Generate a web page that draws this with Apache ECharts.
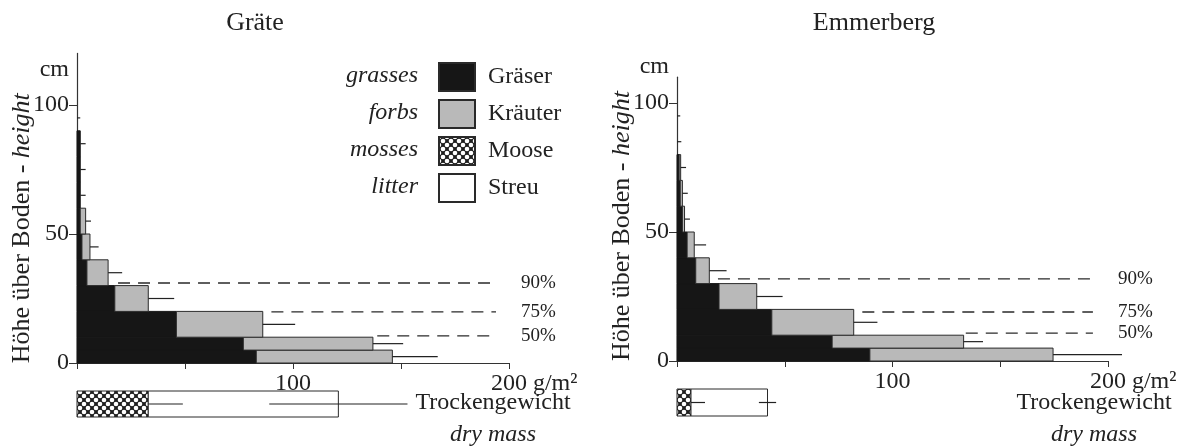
<!DOCTYPE html>
<html><head><meta charset="utf-8">
<script src="https://cdn.jsdelivr.net/npm/echarts@6/dist/echarts.min.js"></script>
<style>html,body{margin:0;padding:0;background:#fff}#c{width:1186px;height:446px}</style>
</head><body><div id="c"></div>
<script>
// ---- data ----
const layerLow  = [0, 5, 10, 20, 30, 40, 50, 60, 70, 80, 90];
const layerHigh = [5, 10, 20, 30, 40, 50, 60, 70, 80, 90, 100];
const grateGrasses = [83, 77, 46, 17.5, 4.6, 2.3, 1.5, 1.5, 1.5, 1.5, 0];
const grateForbs   = [63, 60, 40, 15.5, 9.8, 3.7, 2.5, 0, 0, 0, 0];
const grateSD      = [21, 14, 15, 12, 6.5, 4, 2.5, 2.5, 2.5, 2.5, 1.5];
const emmGrasses = [89.5, 72, 44, 19.5, 8.7, 4.7, 2.5, 1.5, 1, 0, 0];
const emmForbs   = [85, 61, 38, 17.5, 6.3, 3.3, 1, 1, 0.7, 0, 0];
const emmSD      = [32, 9, 11, 12, 8, 5.5, 2.5, 2.5, 2.5, 2, 1.5];
// dry mass of ground layer: [mosses, litter]
const grateDry   = [33, 88];
const grateDrySD = [16, 32];
const emmDry     = [6.5, 35.5];
const emmDrySD   = [6.5, 4];
// cumulative biomass percent lines
const pctLabels      = ['90%', '75%', '50%'];
const gratePctHeight = [31, 19.8, 10.5];
const gratePctStart  = [19, 90, 139];
const gratePctEnd    = [194, 194, 194];
const emmPctHeight   = [31.8, 19, 10.8];
const emmPctStart    = [19, 86, 134];
const emmPctEnd      = [193, 193, 193];
const panelTitles = ['Gräte', 'Emmerberg'];
const legendDe = ['Gräser', 'Kräuter', 'Moose', 'Streu'];
const legendEn = ['grasses', 'forbs', 'mosses', 'litter'];
const yTicks = [0, 50, 100];

// ---- styles ----
const FONT = '"Liberation Serif", "DejaVu Serif", serif';
const TXT = '#222';
const C_GRASS = '#161616';
const C_FORB = '#b9b9b9';
const C_LITTER = '#ffffff';
const BORDER = '#2a2a2a';
function mossPattern() {
  const c = document.createElement('canvas');
  c.width = 8; c.height = 8;
  const g = c.getContext('2d');
  g.fillStyle = '#1e1e1e'; g.fillRect(0, 0, 8, 8);
  g.fillStyle = '#ffffff';
  [[0,0],[8,0],[0,8],[8,8],[4,4]].forEach(p => { g.beginPath(); g.arc(p[0], p[1], 2.3, 0, Math.PI * 2); g.fill(); });
  return { image: c, repeat: 'repeat' };
}
const C_MOSS = mossPattern();

function rectItem(fill, stroke) {
  return function (params, api) {
    const lo = api.value(0), hi = api.value(1), x0 = api.value(2), x1 = api.value(3);
    if (x1 - x0 <= 0) return null;
    const p0 = api.coord([x0, hi]), p1 = api.coord([x1, lo]);
    return { type: 'rect', shape: { x: p0[0], y: p0[1], width: p1[0] - p0[0], height: p1[1] - p0[1] },
      style: { fill: fill, stroke: stroke, lineWidth: 1 } };
  };
}
function errItem(params, api) {
  const y = (api.value(0) + api.value(1)) / 2, x0 = api.value(2), x1 = api.value(3);
  if (x1 - x0 <= 0) return null;
  const p0 = api.coord([x0, y]), p1 = api.coord([x1, y]);
  return { type: 'line', shape: { x1: p0[0], y1: p0[1], x2: p1[0], y2: p1[1] }, style: { stroke: '#222', lineWidth: 1.2 } };
}

function panelSeries(pi, grasses, forbs, sd, dry, drySD, pctH, pctS, pctE) {
  const gi = pi * 2, bi = pi * 2 + 1;
  const gData = layerLow.map((l, i) => [l, layerHigh[i], 0, grasses[i]]);
  const fData = layerLow.map((l, i) => [l, layerHigh[i], grasses[i], grasses[i] + forbs[i]]);
  const eData = layerLow.map((l, i) => [l, layerHigh[i], grasses[i] + forbs[i], grasses[i] + forbs[i] + sd[i]]);
  const common = { type: 'custom', silent: true, clip: false, encode: { x: [2, 3], y: [0, 1] } };
  const s = [
    Object.assign({}, common, { name: legendDe[0], xAxisIndex: gi, yAxisIndex: gi, data: gData, renderItem: rectItem(C_GRASS, C_GRASS), itemStyle: { color: C_GRASS, borderColor: BORDER, borderWidth: 1 } }),
    Object.assign({}, common, { name: legendDe[1], xAxisIndex: gi, yAxisIndex: gi, data: fData, renderItem: rectItem(C_FORB, BORDER), itemStyle: { color: C_FORB, borderColor: BORDER, borderWidth: 1 } }),
    Object.assign({}, common, { name: 'err' + pi, xAxisIndex: gi, yAxisIndex: gi, data: eData, renderItem: errItem, z: 3 }),
    Object.assign({}, common, { name: legendDe[2], xAxisIndex: bi, yAxisIndex: bi, data: [[0, 1, 0, dry[0]]], renderItem: rectItem(C_MOSS, BORDER), itemStyle: { color: C_MOSS, borderColor: BORDER, borderWidth: 1 } }),
    Object.assign({}, common, { name: legendDe[3], xAxisIndex: bi, yAxisIndex: bi, data: [[0, 1, dry[0], dry[0] + dry[1]]], renderItem: rectItem(C_LITTER, BORDER), itemStyle: { color: C_LITTER, borderColor: BORDER, borderWidth: 1 } }),
    Object.assign({}, common, { name: 'dryerr' + pi, xAxisIndex: bi, yAxisIndex: bi, z: 3, renderItem: errItem,
      data: [[0, 1, dry[0], dry[0] + drySD[0]], [0, 1, dry[0] + dry[1] - drySD[1], dry[0] + dry[1] + drySD[1]]] })
  ];
  pctLabels.forEach((lab, k) => {
    s.push({ type: 'line', name: 'pct' + pi + k, xAxisIndex: gi, yAxisIndex: gi, silent: true, symbol: 'none',
      data: [[pctS[k], pctH[k]], [pctE[k], pctH[k]]],
      lineStyle: { type: [12, 8], color: '#2a2a2a', width: 1.3 },
      endLabel: { show: true, formatter: lab, distance: 25, fontFamily: FONT, fontSize: 19, color: TXT } });
  });
  return s;
}

const gridsDef = [
  { left: 77, top: 53.4, width: 432, height: 309.6, ymax: 120, cmGap: -16, namePad: 40 },
  { left: 677, top: 77.2, width: 431, height: 283.8, ymax: 110, cmGap: 10, namePad: 14 }
];
const bottomDef = [
  { left: 77, top: 391, width: 432, height: 26 },
  { left: 677, top: 389, width: 431, height: 27 }
];
const grid = [], xAxis = [], yAxis = [];
gridsDef.forEach((g, pi) => {
  grid.push({ left: g.left, top: g.top, width: g.width, height: g.height, outerBoundsMode: 'none' });
  grid.push({ left: bottomDef[pi].left, top: bottomDef[pi].top, width: bottomDef[pi].width, height: bottomDef[pi].height, outerBoundsMode: 'none' });
  xAxis.push({ type: 'value', gridIndex: pi * 2, min: 0, max: 200, interval: 50, splitLine: { show: false },
    axisLine: { lineStyle: { color: '#333', width: 1.2 } }, axisTick: { length: 6, lineStyle: { color: '#333' } },
    axisLabel: { margin: 9, fontFamily: FONT, fontSize: 24, color: TXT, formatter: v => (v === 100 || v === 200) ? String(v) : '' },
    name: 'g/m²', nameLocation: 'end', nameGap: 5,
    nameTextStyle: { fontFamily: FONT, fontSize: 24, color: TXT, align: 'left', verticalAlign: 'top', padding: [9, 0, 0, 0] } });
  xAxis.push({ type: 'value', gridIndex: pi * 2 + 1, min: 0, max: 200, show: false });
  yAxis.push({ type: 'value', gridIndex: pi * 2, position: 'left', min: 0, max: g.ymax, splitLine: { show: false },
    axisLine: { show: true, lineStyle: { color: '#333', width: 1.2 } },
    axisTick: { show: true, length: 8, customValues: yTicks, lineStyle: { color: '#333' } },
    axisLabel: { margin: 8, customValues: yTicks, fontFamily: FONT, fontSize: 24, color: TXT },
    name: 'cm', nameLocation: 'end', nameGap: g.cmGap,
    nameTextStyle: { fontFamily: FONT, fontSize: 24, color: TXT, align: 'right', verticalAlign: 'middle', padding: [0, 8, 0, 0] } });
  yAxis.push({ type: 'value', gridIndex: pi * 2 + 1, min: 0, max: 1, show: false });
});
// y axis titles (rotated) via a second, bare y axis on the same grids
gridsDef.forEach((g, pi) => {
  yAxis.push({ type: 'value', gridIndex: pi * 2, position: 'left', offset: 0, min: 0, max: g.ymax, axisLine: { show: false }, axisTick: { show: false }, axisLabel: { show: false }, splitLine: { show: false },
    name: '{n|Höhe über Boden - }{i|height}', nameLocation: 'middle', nameRotate: 90, nameGap: 42,
    nameTextStyle: { padding: [0, g.namePad, 0, 0], rich: { n: { fontFamily: FONT, fontSize: 26, color: TXT }, i: { fontFamily: FONT, fontSize: 26, fontStyle: 'italic', color: TXT } } } });
});

const series = [].concat(
  panelSeries(0, grateGrasses, grateForbs, grateSD, grateDry, grateDrySD, gratePctHeight, gratePctStart, gratePctEnd),
  panelSeries(1, emmGrasses, emmForbs, emmSD, emmDry, emmDrySD, emmPctHeight, emmPctStart, emmPctEnd)
);

const graphic = [];
legendEn.forEach((t, i) => {
  graphic.push({ type: 'text', x: 418, y: 76 + i * 37, style: { text: t, fontFamily: FONT, fontSize: 24, fontStyle: 'italic', fill: TXT, align: 'right', verticalAlign: 'middle' } });
});
const dryX = [493, 1094];
dryX.forEach(x => {
  graphic.push({ type: 'text', x: x, y: 403, style: { text: 'Trockengewicht', fontFamily: FONT, fontSize: 24, fill: TXT, align: 'center', verticalAlign: 'middle' } });
  graphic.push({ type: 'text', x: x, y: 435, style: { text: 'dry mass', fontFamily: FONT, fontSize: 24, fontStyle: 'italic', fill: TXT, align: 'center', verticalAlign: 'middle' } });
});

const chart = echarts.init(document.getElementById('c'), null, { renderer: 'canvas' });
chart.setOption({
  animation: false,
  backgroundColor: '#fff',
  title: [
    { text: panelTitles[0], left: 250, top: 5, textAlign: 'center', textStyle: { fontFamily: FONT, fontSize: 26, fontWeight: 'normal', color: TXT } },
    { text: panelTitles[1], left: 869, top: 5, textAlign: 'center', textStyle: { fontFamily: FONT, fontSize: 26, fontWeight: 'normal', color: TXT } }
  ],
  legend: { data: legendDe, orient: 'vertical', left: 438, top: 62, padding: 0, itemWidth: 36, itemHeight: 28, itemGap: 7, icon: 'rect', selectedMode: false,
    textStyle: { fontFamily: FONT, fontSize: 24, lineHeight: 28, color: TXT, padding: [0, 0, 0, 8] } },
  grid: grid, xAxis: xAxis, yAxis: yAxis, series: series, graphic: graphic
});
</script></body></html>
